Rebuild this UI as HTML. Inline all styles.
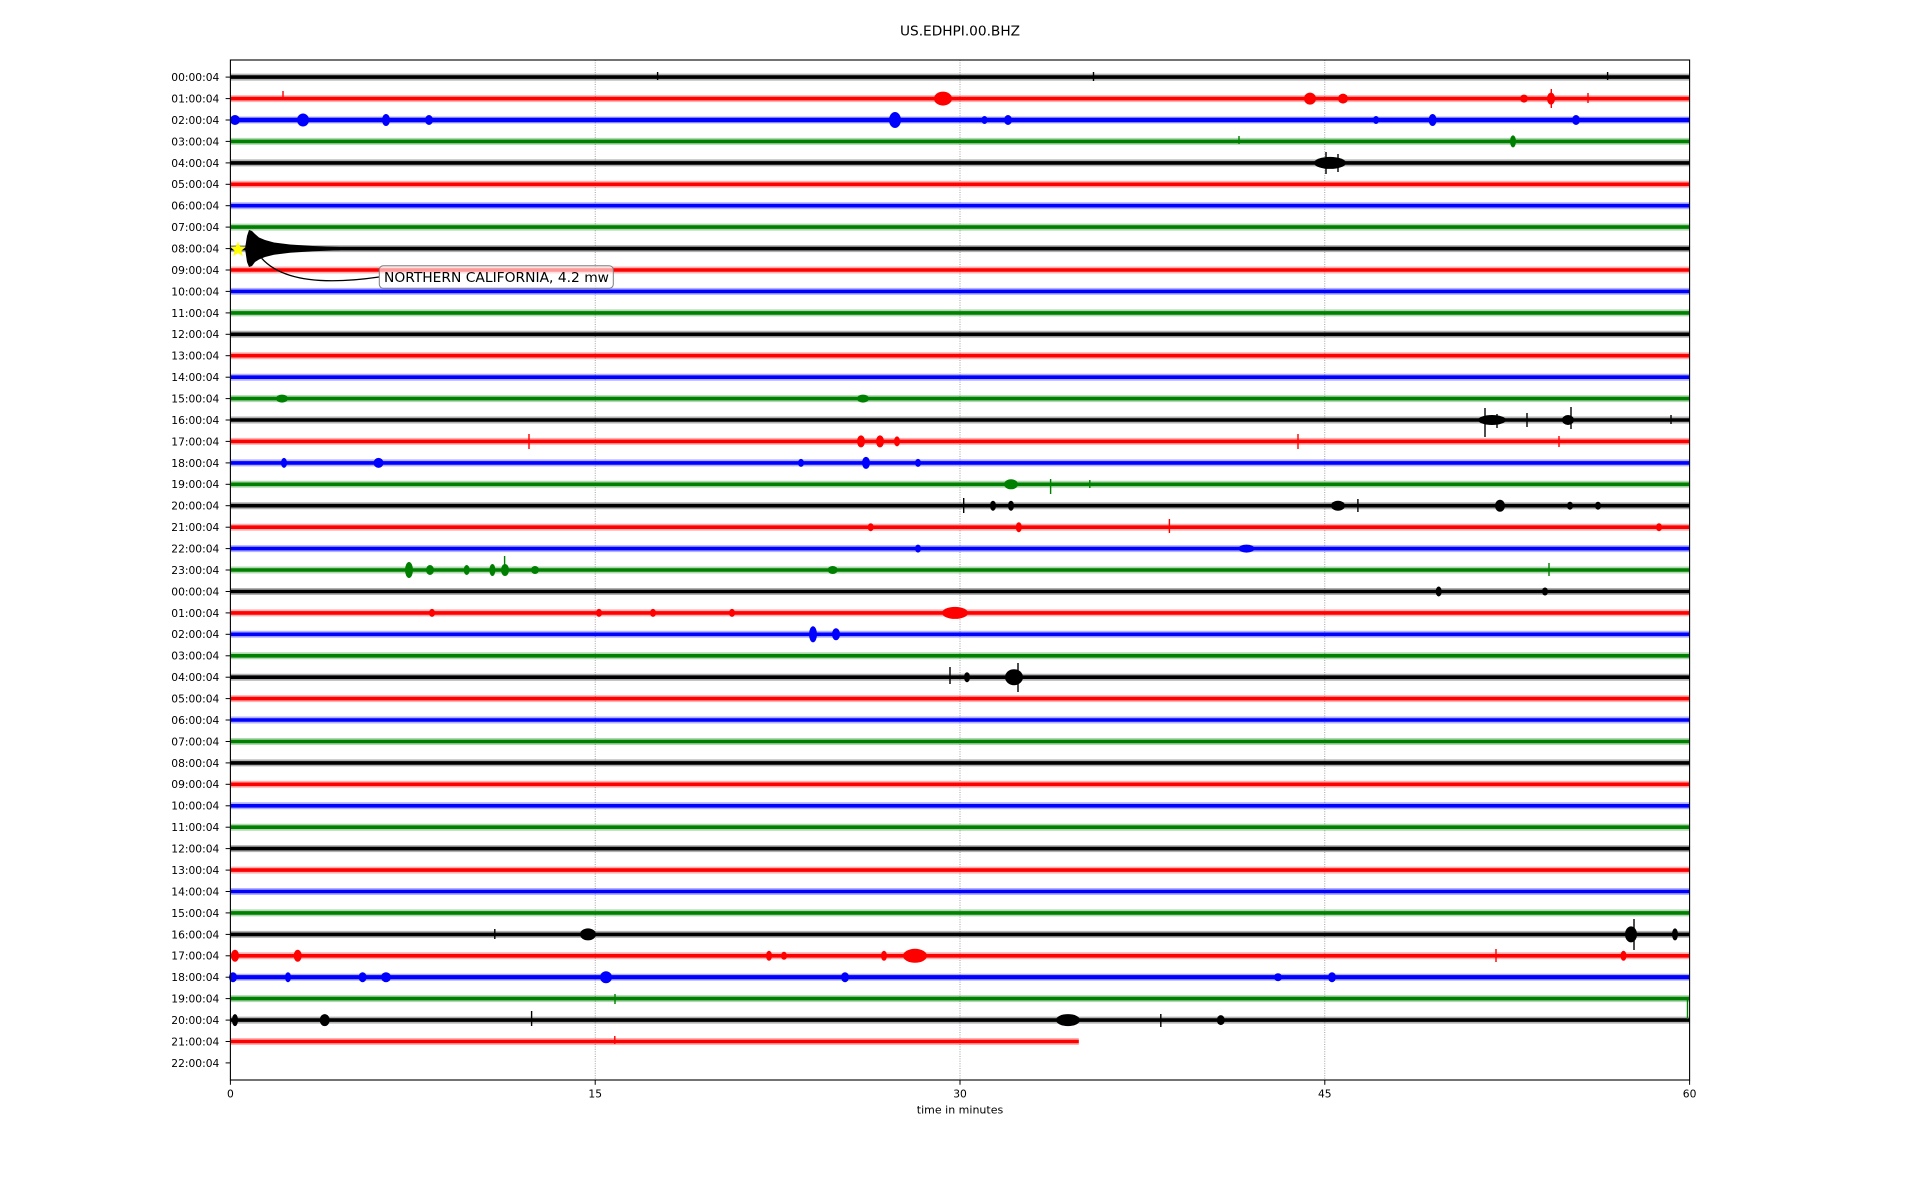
<!DOCTYPE html>
<html><head><meta charset="utf-8"><style>
html,body{margin:0;padding:0;background:#fff;}
svg{display:block;}
text{font-family:"DejaVu Sans","Liberation Sans",sans-serif;fill:#000;}
</style></head><body>
<svg width="1920" height="1200" viewBox="0 0 1920 1200" xmlns="http://www.w3.org/2000/svg">
<rect width="1920" height="1200" fill="#fff"/>
<text x="960" y="35.7" font-size="13.7" text-anchor="middle">US.EDHPI.00.BHZ</text>
<!-- grid -->
<g stroke="#8a8a8a" stroke-width="0.8" stroke-dasharray="1 1.4">
<line x1="595.2" y1="60" x2="595.2" y2="1080"/>
<line x1="960" y1="60" x2="960" y2="1080"/>
<line x1="1324.8" y1="60" x2="1324.8" y2="1080"/>
</g>
<!-- fuzz -->
<g stroke-width="7" opacity="0.3">
<line x1="230.4" y1="77.1" x2="1689.6" y2="77.1" stroke="#000"/>
<line x1="230.4" y1="98.6" x2="1689.6" y2="98.6" stroke="#f00"/>
<line x1="230.4" y1="120.0" x2="1689.6" y2="120.0" stroke="#00f"/>
<line x1="230.4" y1="141.4" x2="1689.6" y2="141.4" stroke="#008000"/>
<line x1="230.4" y1="162.9" x2="1689.6" y2="162.9" stroke="#000"/>
<line x1="230.4" y1="184.3" x2="1689.6" y2="184.3" stroke="#f00"/>
<line x1="230.4" y1="205.7" x2="1689.6" y2="205.7" stroke="#00f"/>
<line x1="230.4" y1="227.1" x2="1689.6" y2="227.1" stroke="#008000"/>
<line x1="230.4" y1="248.6" x2="1689.6" y2="248.6" stroke="#000"/>
<line x1="230.4" y1="270.0" x2="1689.6" y2="270.0" stroke="#f00"/>
<line x1="230.4" y1="291.4" x2="1689.6" y2="291.4" stroke="#00f"/>
<line x1="230.4" y1="312.9" x2="1689.6" y2="312.9" stroke="#008000"/>
<line x1="230.4" y1="334.3" x2="1689.6" y2="334.3" stroke="#000"/>
<line x1="230.4" y1="355.7" x2="1689.6" y2="355.7" stroke="#f00"/>
<line x1="230.4" y1="377.2" x2="1689.6" y2="377.2" stroke="#00f"/>
<line x1="230.4" y1="398.6" x2="1689.6" y2="398.6" stroke="#008000"/>
<line x1="230.4" y1="420.0" x2="1689.6" y2="420.0" stroke="#000"/>
<line x1="230.4" y1="441.4" x2="1689.6" y2="441.4" stroke="#f00"/>
<line x1="230.4" y1="462.9" x2="1689.6" y2="462.9" stroke="#00f"/>
<line x1="230.4" y1="484.3" x2="1689.6" y2="484.3" stroke="#008000"/>
<line x1="230.4" y1="505.7" x2="1689.6" y2="505.7" stroke="#000"/>
<line x1="230.4" y1="527.2" x2="1689.6" y2="527.2" stroke="#f00"/>
<line x1="230.4" y1="548.6" x2="1689.6" y2="548.6" stroke="#00f"/>
<line x1="230.4" y1="570.0" x2="1689.6" y2="570.0" stroke="#008000"/>
<line x1="230.4" y1="591.5" x2="1689.6" y2="591.5" stroke="#000"/>
<line x1="230.4" y1="612.9" x2="1689.6" y2="612.9" stroke="#f00"/>
<line x1="230.4" y1="634.3" x2="1689.6" y2="634.3" stroke="#00f"/>
<line x1="230.4" y1="655.8" x2="1689.6" y2="655.8" stroke="#008000"/>
<line x1="230.4" y1="677.2" x2="1689.6" y2="677.2" stroke="#000"/>
<line x1="230.4" y1="698.6" x2="1689.6" y2="698.6" stroke="#f00"/>
<line x1="230.4" y1="720.0" x2="1689.6" y2="720.0" stroke="#00f"/>
<line x1="230.4" y1="741.5" x2="1689.6" y2="741.5" stroke="#008000"/>
<line x1="230.4" y1="762.9" x2="1689.6" y2="762.9" stroke="#000"/>
<line x1="230.4" y1="784.3" x2="1689.6" y2="784.3" stroke="#f00"/>
<line x1="230.4" y1="805.8" x2="1689.6" y2="805.8" stroke="#00f"/>
<line x1="230.4" y1="827.2" x2="1689.6" y2="827.2" stroke="#008000"/>
<line x1="230.4" y1="848.6" x2="1689.6" y2="848.6" stroke="#000"/>
<line x1="230.4" y1="870.1" x2="1689.6" y2="870.1" stroke="#f00"/>
<line x1="230.4" y1="891.5" x2="1689.6" y2="891.5" stroke="#00f"/>
<line x1="230.4" y1="912.9" x2="1689.6" y2="912.9" stroke="#008000"/>
<line x1="230.4" y1="934.4" x2="1689.6" y2="934.4" stroke="#000"/>
<line x1="230.4" y1="955.8" x2="1689.6" y2="955.8" stroke="#f00"/>
<line x1="230.4" y1="977.2" x2="1689.6" y2="977.2" stroke="#00f"/>
<line x1="230.4" y1="998.6" x2="1689.6" y2="998.6" stroke="#008000"/>
<line x1="230.4" y1="1020.1" x2="1689.6" y2="1020.1" stroke="#000"/>
<line x1="230.4" y1="1041.5" x2="1078.8" y2="1041.5" stroke="#f00"/>
</g>
<!-- core traces -->
<g stroke-width="3.6">
<line x1="230.4" y1="77.1" x2="1689.6" y2="77.1" stroke="#000"/>
<line x1="230.4" y1="98.6" x2="1689.6" y2="98.6" stroke="#f00"/>
<line x1="230.4" y1="120.0" x2="1689.6" y2="120.0" stroke="#00f" stroke-width="4.4"/>
<line x1="230.4" y1="141.4" x2="1689.6" y2="141.4" stroke="#008000"/>
<line x1="230.4" y1="162.9" x2="1689.6" y2="162.9" stroke="#000"/>
<line x1="230.4" y1="184.3" x2="1689.6" y2="184.3" stroke="#f00"/>
<line x1="230.4" y1="205.7" x2="1689.6" y2="205.7" stroke="#00f"/>
<line x1="230.4" y1="227.1" x2="1689.6" y2="227.1" stroke="#008000"/>
<line x1="230.4" y1="248.6" x2="1689.6" y2="248.6" stroke="#000"/>
<line x1="230.4" y1="270.0" x2="1689.6" y2="270.0" stroke="#f00"/>
<line x1="230.4" y1="291.4" x2="1689.6" y2="291.4" stroke="#00f"/>
<line x1="230.4" y1="312.9" x2="1689.6" y2="312.9" stroke="#008000"/>
<line x1="230.4" y1="334.3" x2="1689.6" y2="334.3" stroke="#000"/>
<line x1="230.4" y1="355.7" x2="1689.6" y2="355.7" stroke="#f00"/>
<line x1="230.4" y1="377.2" x2="1689.6" y2="377.2" stroke="#00f"/>
<line x1="230.4" y1="398.6" x2="1689.6" y2="398.6" stroke="#008000"/>
<line x1="230.4" y1="420.0" x2="1689.6" y2="420.0" stroke="#000"/>
<line x1="230.4" y1="441.4" x2="1689.6" y2="441.4" stroke="#f00"/>
<line x1="230.4" y1="462.9" x2="1689.6" y2="462.9" stroke="#00f"/>
<line x1="230.4" y1="484.3" x2="1689.6" y2="484.3" stroke="#008000"/>
<line x1="230.4" y1="505.7" x2="1689.6" y2="505.7" stroke="#000"/>
<line x1="230.4" y1="527.2" x2="1689.6" y2="527.2" stroke="#f00"/>
<line x1="230.4" y1="548.6" x2="1689.6" y2="548.6" stroke="#00f"/>
<line x1="230.4" y1="570.0" x2="1689.6" y2="570.0" stroke="#008000"/>
<line x1="230.4" y1="591.5" x2="1689.6" y2="591.5" stroke="#000"/>
<line x1="230.4" y1="612.9" x2="1689.6" y2="612.9" stroke="#f00"/>
<line x1="230.4" y1="634.3" x2="1689.6" y2="634.3" stroke="#00f"/>
<line x1="230.4" y1="655.8" x2="1689.6" y2="655.8" stroke="#008000"/>
<line x1="230.4" y1="677.2" x2="1689.6" y2="677.2" stroke="#000"/>
<line x1="230.4" y1="698.6" x2="1689.6" y2="698.6" stroke="#f00"/>
<line x1="230.4" y1="720.0" x2="1689.6" y2="720.0" stroke="#00f"/>
<line x1="230.4" y1="741.5" x2="1689.6" y2="741.5" stroke="#008000"/>
<line x1="230.4" y1="762.9" x2="1689.6" y2="762.9" stroke="#000"/>
<line x1="230.4" y1="784.3" x2="1689.6" y2="784.3" stroke="#f00"/>
<line x1="230.4" y1="805.8" x2="1689.6" y2="805.8" stroke="#00f"/>
<line x1="230.4" y1="827.2" x2="1689.6" y2="827.2" stroke="#008000"/>
<line x1="230.4" y1="848.6" x2="1689.6" y2="848.6" stroke="#000"/>
<line x1="230.4" y1="870.1" x2="1689.6" y2="870.1" stroke="#f00"/>
<line x1="230.4" y1="891.5" x2="1689.6" y2="891.5" stroke="#00f"/>
<line x1="230.4" y1="912.9" x2="1689.6" y2="912.9" stroke="#008000"/>
<line x1="230.4" y1="934.4" x2="1689.6" y2="934.4" stroke="#000"/>
<line x1="230.4" y1="955.8" x2="1689.6" y2="955.8" stroke="#f00"/>
<line x1="230.4" y1="977.2" x2="1689.6" y2="977.2" stroke="#00f" stroke-width="4.2"/>
<line x1="230.4" y1="998.6" x2="1689.6" y2="998.6" stroke="#008000"/>
<line x1="230.4" y1="1020.1" x2="1689.6" y2="1020.1" stroke="#000"/>
<line x1="230.4" y1="1041.5" x2="1078.8" y2="1041.5" stroke="#f00"/>
</g>
<!-- events: black -->
<g fill="#000" stroke="#000" stroke-width="1.4">
<line x1="657.6" y1="72" x2="657.6" y2="80"/>
<line x1="1093.5" y1="72" x2="1093.5" y2="81"/>
<line x1="1607.6" y1="72" x2="1607.6" y2="80"/>
<ellipse cx="1330" cy="162.9" rx="16" ry="6" stroke="none"/>
<line x1="1326" y1="152" x2="1326" y2="174"/>
<line x1="1338" y1="154" x2="1338" y2="172"/>
<polygon stroke="none" points="245,248.6 247,236 249,230 252,231 255,234 259,237.5 265,240 274,242.5 290,244.5 313,246 340,247 340,250.2 313,251.2 290,252.7 274,254.7 265,257 259,259.5 255,262 252,266 249,267 247,262"/>
<ellipse cx="1492" cy="420" rx="14" ry="5" stroke="none"/>
<line x1="1485" y1="408" x2="1485" y2="437"/>
<line x1="1497" y1="414" x2="1497" y2="428"/>
<line x1="1527" y1="413" x2="1527" y2="427"/>
<ellipse cx="1568" cy="420" rx="6" ry="5" stroke="none"/>
<line x1="1571" y1="407" x2="1571" y2="429"/>
<line x1="1671" y1="415" x2="1671" y2="424"/>
<line x1="963.7" y1="498" x2="963.7" y2="513"/>
<ellipse cx="993" cy="505.7" rx="3" ry="5" stroke="none"/>
<ellipse cx="1011" cy="505.7" rx="3" ry="5" stroke="none"/>
<ellipse cx="1338" cy="505.7" rx="7" ry="5" stroke="none"/>
<line x1="1357.9" y1="499" x2="1357.9" y2="512"/>
<ellipse cx="1500" cy="505.7" rx="5" ry="6" stroke="none"/>
<ellipse cx="1570" cy="505.7" rx="3" ry="4" stroke="none"/>
<ellipse cx="1598" cy="505.7" rx="3" ry="4" stroke="none"/>
<ellipse cx="1438.7" cy="591.5" rx="3" ry="5" stroke="none"/>
<ellipse cx="1545" cy="591.5" rx="3" ry="4" stroke="none"/>
<line x1="950" y1="667" x2="950" y2="684"/>
<ellipse cx="967" cy="677.2" rx="3" ry="5" stroke="none"/>
<ellipse cx="1014" cy="677.2" rx="9" ry="8" stroke="none"/>
<line x1="1018" y1="663" x2="1018" y2="692"/>
<line x1="494.8" y1="929" x2="494.8" y2="939"/>
<ellipse cx="588" cy="934.4" rx="8" ry="6" stroke="none"/>
<ellipse cx="1631" cy="934.4" rx="6" ry="8" stroke="none"/>
<line x1="1634" y1="919" x2="1634" y2="950"/>
<ellipse cx="1675" cy="934.4" rx="3" ry="6" stroke="none"/>
<ellipse cx="235" cy="1020.1" rx="3" ry="6" stroke="none"/>
<ellipse cx="324.7" cy="1020.1" rx="5" ry="6" stroke="none"/>
<line x1="531.6" y1="1011" x2="531.6" y2="1026"/>
<ellipse cx="1068" cy="1020.1" rx="12" ry="6" stroke="none"/>
<line x1="1160.8" y1="1014" x2="1160.8" y2="1027"/>
<ellipse cx="1220.8" cy="1020.1" rx="4" ry="5" stroke="none"/>
</g>
<!-- events: red -->
<g fill="#f00" stroke="#f00" stroke-width="1.4">
<line x1="283" y1="91" x2="283" y2="100"/>
<ellipse cx="943" cy="98.6" rx="9" ry="7" stroke="none"/>
<ellipse cx="1310" cy="98.6" rx="6" ry="6" stroke="none"/>
<ellipse cx="1343" cy="98.6" rx="5" ry="5" stroke="none"/>
<ellipse cx="1524" cy="98.6" rx="4" ry="4" stroke="none"/>
<ellipse cx="1551" cy="98.6" rx="4" ry="6" stroke="none"/>
<line x1="1551.3" y1="89" x2="1551.3" y2="108"/>
<line x1="1588" y1="93" x2="1588" y2="103"/>
<line x1="529" y1="434" x2="529" y2="449"/>
<ellipse cx="861" cy="441.4" rx="4" ry="6" stroke="none"/>
<ellipse cx="880" cy="441.4" rx="4" ry="6" stroke="none"/>
<ellipse cx="897" cy="441.4" rx="3" ry="5" stroke="none"/>
<line x1="1298" y1="434" x2="1298" y2="449"/>
<line x1="1559" y1="436" x2="1559" y2="447"/>
<ellipse cx="870.7" cy="527.2" rx="3" ry="4" stroke="none"/>
<ellipse cx="1018.8" cy="527.2" rx="3" ry="5" stroke="none"/>
<line x1="1169.4" y1="519" x2="1169.4" y2="533"/>
<ellipse cx="1659" cy="527.2" rx="3" ry="4" stroke="none"/>
<ellipse cx="432" cy="612.9" rx="3" ry="4" stroke="none"/>
<ellipse cx="599" cy="612.9" rx="3" ry="4" stroke="none"/>
<ellipse cx="653" cy="612.9" rx="3" ry="4" stroke="none"/>
<ellipse cx="732" cy="612.9" rx="3" ry="4" stroke="none"/>
<ellipse cx="955" cy="612.9" rx="13" ry="6" stroke="none"/>
<ellipse cx="235" cy="955.8" rx="4" ry="6" stroke="none"/>
<ellipse cx="297.7" cy="955.8" rx="4" ry="6" stroke="none"/>
<ellipse cx="769" cy="955.8" rx="3" ry="5" stroke="none"/>
<ellipse cx="784" cy="955.8" rx="3" ry="4" stroke="none"/>
<ellipse cx="884" cy="955.8" rx="3" ry="5" stroke="none"/>
<ellipse cx="915" cy="955.8" rx="12" ry="7" stroke="none"/>
<line x1="1496" y1="949" x2="1496" y2="962"/>
<ellipse cx="1623.5" cy="955.8" rx="3" ry="5" stroke="none"/>
<line x1="614.8" y1="1036" x2="614.8" y2="1044"/>
</g>
<!-- events: blue -->
<g fill="#00f" stroke="#00f" stroke-width="1.4">
<ellipse cx="235" cy="120" rx="5" ry="5" stroke="none"/>
<ellipse cx="303" cy="120" rx="6" ry="6.5" stroke="none"/>
<ellipse cx="386" cy="120" rx="4" ry="6" stroke="none"/>
<ellipse cx="429" cy="120" rx="4" ry="5" stroke="none"/>
<ellipse cx="895" cy="120" rx="6" ry="8" stroke="none"/>
<ellipse cx="984.5" cy="120" rx="3" ry="4" stroke="none"/>
<ellipse cx="1008" cy="120" rx="4" ry="5" stroke="none"/>
<ellipse cx="1376" cy="120" rx="3" ry="4" stroke="none"/>
<ellipse cx="1432.6" cy="120" rx="4" ry="6" stroke="none"/>
<ellipse cx="1576" cy="120" rx="4" ry="5" stroke="none"/>
<ellipse cx="284" cy="462.9" rx="3" ry="5" stroke="none"/>
<ellipse cx="378.5" cy="462.9" rx="5" ry="5" stroke="none"/>
<ellipse cx="801" cy="462.9" rx="3" ry="4" stroke="none"/>
<ellipse cx="866" cy="462.9" rx="4" ry="6" stroke="none"/>
<ellipse cx="918" cy="462.9" rx="3" ry="4" stroke="none"/>
<ellipse cx="918" cy="548.6" rx="3" ry="4" stroke="none"/>
<ellipse cx="1246.5" cy="548.6" rx="8" ry="4" stroke="none"/>
<ellipse cx="813" cy="634.3" rx="4" ry="8" stroke="none"/>
<ellipse cx="836" cy="634.3" rx="4" ry="6" stroke="none"/>
<ellipse cx="233" cy="977.2" rx="4" ry="5" stroke="none"/>
<ellipse cx="288" cy="977.2" rx="3" ry="5" stroke="none"/>
<ellipse cx="362.6" cy="977.2" rx="4" ry="5" stroke="none"/>
<ellipse cx="386" cy="977.2" rx="5" ry="5" stroke="none"/>
<ellipse cx="606" cy="977.2" rx="6" ry="6" stroke="none"/>
<ellipse cx="845" cy="977.2" rx="4" ry="5" stroke="none"/>
<ellipse cx="1278" cy="977.2" rx="4" ry="4" stroke="none"/>
<ellipse cx="1332" cy="977.2" rx="4" ry="5" stroke="none"/>
</g>
<!-- events: green -->
<g fill="#008000" stroke="#008000" stroke-width="1.4">
<line x1="1239" y1="136" x2="1239" y2="144"/>
<ellipse cx="1513" cy="141.4" rx="3" ry="6" stroke="none"/>
<ellipse cx="282" cy="398.6" rx="6" ry="4" stroke="none"/>
<ellipse cx="863" cy="398.6" rx="6" ry="4" stroke="none"/>
<ellipse cx="1011" cy="484.3" rx="7" ry="5" stroke="none"/>
<line x1="1050.6" y1="479" x2="1050.6" y2="494"/>
<line x1="1089.8" y1="480" x2="1089.8" y2="488"/>
<ellipse cx="409" cy="570" rx="4" ry="8" stroke="none"/>
<ellipse cx="430" cy="570" rx="4" ry="5" stroke="none"/>
<ellipse cx="466.7" cy="570" rx="3" ry="5" stroke="none"/>
<ellipse cx="492.4" cy="570" rx="3" ry="6" stroke="none"/>
<ellipse cx="505" cy="570" rx="4" ry="6" stroke="none"/>
<line x1="504.6" y1="556" x2="504.6" y2="575"/>
<ellipse cx="535" cy="570" rx="4" ry="4" stroke="none"/>
<ellipse cx="832.7" cy="570" rx="5" ry="4" stroke="none"/>
<line x1="1549" y1="563" x2="1549" y2="576"/>
<line x1="615" y1="994" x2="615" y2="1004"/>
<line x1="1687.5" y1="998.6" x2="1687.5" y2="1019"/>
</g>
<!-- star -->
<polygon fill="#ffff00" points="238,241.5 240.1,246.7 245.6,247.1 241.4,250.6 242.7,256 238,253 233.3,256 234.6,250.6 230.4,247.1 235.9,246.7"/>
<!-- annotation -->
<path d="M261.7 258.3 Q290 290 379 277" fill="none" stroke="#000" stroke-width="1.3"/>
<rect x="379.3" y="265.7" width="234" height="22.6" rx="4" ry="4" fill="#fff" fill-opacity="0.6" stroke="#7f7f7f" stroke-width="1"/>
<text x="384" y="282" font-size="13.7" textLength="225" lengthAdjust="spacingAndGlyphs">NORTHERN CALIFORNIA, 4.2 mw</text>
<!-- axes frame -->
<rect x="230.4" y="60" width="1459.2" height="1020" fill="none" stroke="#000" stroke-width="1.1"/>
<!-- ticks -->
<g stroke="#000" stroke-width="1">
<line x1="225.6" y1="77.1" x2="230.4" y2="77.1"/><line x1="225.6" y1="98.6" x2="230.4" y2="98.6"/><line x1="225.6" y1="120.0" x2="230.4" y2="120.0"/><line x1="225.6" y1="141.4" x2="230.4" y2="141.4"/><line x1="225.6" y1="162.9" x2="230.4" y2="162.9"/><line x1="225.6" y1="184.3" x2="230.4" y2="184.3"/><line x1="225.6" y1="205.7" x2="230.4" y2="205.7"/><line x1="225.6" y1="227.1" x2="230.4" y2="227.1"/><line x1="225.6" y1="248.6" x2="230.4" y2="248.6"/><line x1="225.6" y1="270.0" x2="230.4" y2="270.0"/><line x1="225.6" y1="291.4" x2="230.4" y2="291.4"/><line x1="225.6" y1="312.9" x2="230.4" y2="312.9"/><line x1="225.6" y1="334.3" x2="230.4" y2="334.3"/><line x1="225.6" y1="355.7" x2="230.4" y2="355.7"/><line x1="225.6" y1="377.2" x2="230.4" y2="377.2"/><line x1="225.6" y1="398.6" x2="230.4" y2="398.6"/><line x1="225.6" y1="420.0" x2="230.4" y2="420.0"/><line x1="225.6" y1="441.4" x2="230.4" y2="441.4"/><line x1="225.6" y1="462.9" x2="230.4" y2="462.9"/><line x1="225.6" y1="484.3" x2="230.4" y2="484.3"/><line x1="225.6" y1="505.7" x2="230.4" y2="505.7"/><line x1="225.6" y1="527.2" x2="230.4" y2="527.2"/><line x1="225.6" y1="548.6" x2="230.4" y2="548.6"/><line x1="225.6" y1="570.0" x2="230.4" y2="570.0"/><line x1="225.6" y1="591.5" x2="230.4" y2="591.5"/><line x1="225.6" y1="612.9" x2="230.4" y2="612.9"/><line x1="225.6" y1="634.3" x2="230.4" y2="634.3"/><line x1="225.6" y1="655.8" x2="230.4" y2="655.8"/><line x1="225.6" y1="677.2" x2="230.4" y2="677.2"/><line x1="225.6" y1="698.6" x2="230.4" y2="698.6"/><line x1="225.6" y1="720.0" x2="230.4" y2="720.0"/><line x1="225.6" y1="741.5" x2="230.4" y2="741.5"/><line x1="225.6" y1="762.9" x2="230.4" y2="762.9"/><line x1="225.6" y1="784.3" x2="230.4" y2="784.3"/><line x1="225.6" y1="805.8" x2="230.4" y2="805.8"/><line x1="225.6" y1="827.2" x2="230.4" y2="827.2"/><line x1="225.6" y1="848.6" x2="230.4" y2="848.6"/><line x1="225.6" y1="870.1" x2="230.4" y2="870.1"/><line x1="225.6" y1="891.5" x2="230.4" y2="891.5"/><line x1="225.6" y1="912.9" x2="230.4" y2="912.9"/><line x1="225.6" y1="934.4" x2="230.4" y2="934.4"/><line x1="225.6" y1="955.8" x2="230.4" y2="955.8"/><line x1="225.6" y1="977.2" x2="230.4" y2="977.2"/><line x1="225.6" y1="998.6" x2="230.4" y2="998.6"/><line x1="225.6" y1="1020.1" x2="230.4" y2="1020.1"/><line x1="225.6" y1="1041.5" x2="230.4" y2="1041.5"/><line x1="225.6" y1="1062.9" x2="230.4" y2="1062.9"/>
<line x1="230.4" y1="1080" x2="230.4" y2="1084.8"/><line x1="595.2" y1="1080" x2="595.2" y2="1084.8"/><line x1="960" y1="1080" x2="960" y2="1084.8"/><line x1="1324.8" y1="1080" x2="1324.8" y2="1084.8"/><line x1="1689.6" y1="1080" x2="1689.6" y2="1084.8"/>
</g>
<!-- y labels -->
<g font-size="10.7" text-anchor="end">
<text x="219.3" y="81">00:00:04</text><text x="219.3" y="102.5">01:00:04</text><text x="219.3" y="123.9">02:00:04</text><text x="219.3" y="145.3">03:00:04</text><text x="219.3" y="166.8">04:00:04</text><text x="219.3" y="188.2">05:00:04</text><text x="219.3" y="209.6">06:00:04</text><text x="219.3" y="231">07:00:04</text><text x="219.3" y="252.5">08:00:04</text><text x="219.3" y="273.9">09:00:04</text><text x="219.3" y="295.3">10:00:04</text><text x="219.3" y="316.8">11:00:04</text><text x="219.3" y="338.2">12:00:04</text><text x="219.3" y="359.6">13:00:04</text><text x="219.3" y="381.1">14:00:04</text><text x="219.3" y="402.5">15:00:04</text><text x="219.3" y="423.9">16:00:04</text><text x="219.3" y="445.3">17:00:04</text><text x="219.3" y="466.8">18:00:04</text><text x="219.3" y="488.2">19:00:04</text><text x="219.3" y="509.6">20:00:04</text><text x="219.3" y="531.1">21:00:04</text><text x="219.3" y="552.5">22:00:04</text><text x="219.3" y="573.9">23:00:04</text><text x="219.3" y="595.4">00:00:04</text><text x="219.3" y="616.8">01:00:04</text><text x="219.3" y="638.2">02:00:04</text><text x="219.3" y="659.7">03:00:04</text><text x="219.3" y="681.1">04:00:04</text><text x="219.3" y="702.5">05:00:04</text><text x="219.3" y="723.9">06:00:04</text><text x="219.3" y="745.4">07:00:04</text><text x="219.3" y="766.8">08:00:04</text><text x="219.3" y="788.2">09:00:04</text><text x="219.3" y="809.7">10:00:04</text><text x="219.3" y="831.1">11:00:04</text><text x="219.3" y="852.5">12:00:04</text><text x="219.3" y="874">13:00:04</text><text x="219.3" y="895.4">14:00:04</text><text x="219.3" y="916.8">15:00:04</text><text x="219.3" y="938.3">16:00:04</text><text x="219.3" y="959.7">17:00:04</text><text x="219.3" y="981.1">18:00:04</text><text x="219.3" y="1002.5">19:00:04</text><text x="219.3" y="1024">20:00:04</text><text x="219.3" y="1045.4">21:00:04</text><text x="219.3" y="1066.8">22:00:04</text>
</g>
<!-- x labels -->
<g font-size="10.7" text-anchor="middle">
<text x="230.4" y="1097.4">0</text><text x="595.2" y="1097.4">15</text><text x="960" y="1097.4">30</text><text x="1324.8" y="1097.4">45</text><text x="1689.6" y="1097.4">60</text>
<text x="960" y="1113.4" font-size="11">time in minutes</text>
</g>
</svg>
</body></html>
